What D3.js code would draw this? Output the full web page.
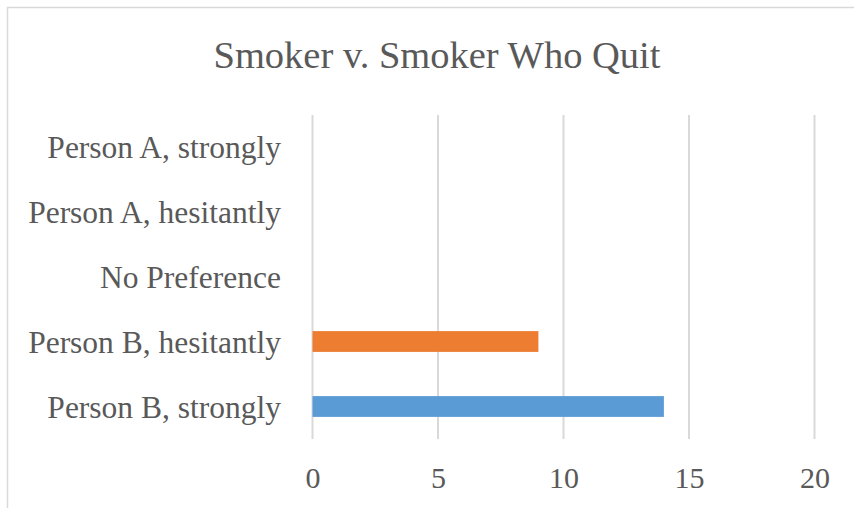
<!DOCTYPE html>
<html><head><meta charset="utf-8">
<script src="https://cdn.jsdelivr.net/npm/d3@7"></script>
<style>html,body{margin:0;padding:0;background:#fff;}svg{display:block;}</style>
</head><body>
<svg id="c" width="854" height="508"></svg>
<script>
const categories = ["Person A, strongly","Person A, hesitantly","No Preference","Person B, hesitantly","Person B, strongly"];
const values = [0, 0, 0, 9, 14];
const colors = ["#5B9BD5","#ED7D31","#A5A5A5","#ED7D31","#5B9BD5"];
const xTicks = [0, 5, 10, 15, 20];
const title = "Smoker v. Smoker Who Quit";

const svg = d3.select("#c");
const font = "'Liberation Serif','Times New Roman',serif";
svg.append("rect").attr("x",7.5).attr("y",7.5).attr("width",900).attr("height",600)
  .attr("fill","#fff").attr("stroke","#d9d9d9").attr("stroke-width",1.5);

const x = d3.scaleLinear().domain([0,20]).range([312.5,814.5]);
const y = d3.scaleBand().domain(categories).range([114,439]).paddingInner(0.68).paddingOuter(0.34);

svg.append("g").selectAll("line").data(xTicks).join("line")
  .attr("x1",d=>x(d)).attr("x2",d=>x(d)).attr("y1",115).attr("y2",439)
  .attr("stroke","#d9d9d9").attr("stroke-width",2);

svg.append("g").selectAll("rect").data(categories).join("rect")
  .attr("x",x(0)).attr("y",d=>y(d)).attr("height",y.bandwidth())
  .attr("width",(d,i)=>x(values[i])-x(0)).attr("fill",(d,i)=>colors[i]);

const xa = svg.append("g").attr("transform","translate(0,439)")
  .call(d3.axisBottom(x).tickValues(xTicks).tickSize(0).tickFormat(d3.format("d")));
xa.select(".domain").remove();
xa.selectAll("text").attr("font-family",font).attr("font-size",30).attr("fill","#595959")
  .attr("y",49).attr("dy",0);

const ya = svg.append("g").attr("transform","translate(281,0)")
  .call(d3.axisLeft(y).tickSize(0).tickPadding(0));
ya.select(".domain").remove();
ya.selectAll("text").attr("font-family",font).attr("font-size",31.5).attr("fill","#595959").attr("dy","0.365em");

svg.append("text").attr("x",437).attr("y",67.5).attr("text-anchor","middle")
  .attr("font-family",font).attr("font-size",38.5).attr("fill","#595959").text(title);
</script>
</body></html>
